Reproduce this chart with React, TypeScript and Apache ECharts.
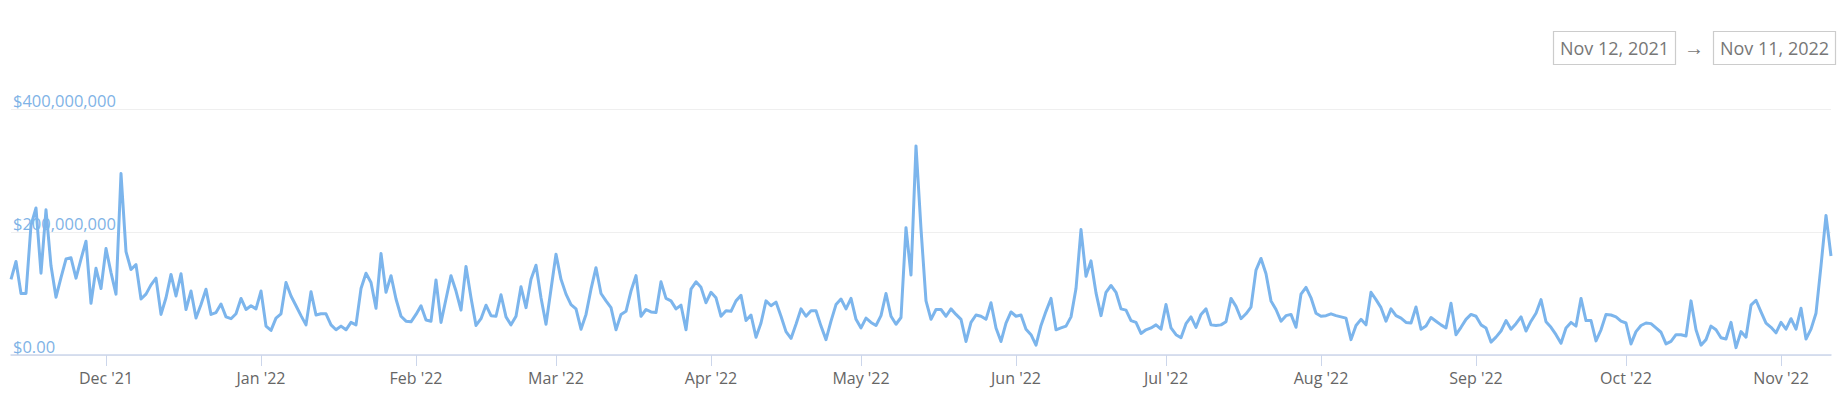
import React, { useEffect, useRef } from "react";
import * as echarts from "echarts";

// Daily volume in millions of USD, Nov 12, 2021 -> Nov 11, 2022
const volNov21: number[] = [123, 152, 100, 100, 211, 239, 133, 236, 145, 94, 126, 156, 158, 125, 156, 185, 84, 141, 108];
const volDec21: number[] = [173, 134, 99, 295, 168, 139, 147, 91, 99, 114, 125, 66, 93, 131, 96, 132, 74, 104, 60, 82, 107, 66, 69, 83, 62, 59, 67, 92, 74, 80, 75];
const volJan22: number[] = [104, 47, 40, 60, 67, 118, 96, 80, 64, 49, 103, 65, 67, 67, 49, 41, 47, 41, 53, 49, 108, 133, 118, 76, 165, 102, 129, 91, 63, 55, 54];
const volFeb22: number[] = [66, 80, 57, 55, 122, 53, 91, 129, 104, 73, 144, 93, 48, 59, 81, 64, 63, 98, 62, 49, 63, 111, 77, 123, 146, 93, 50, 107];
const volMar22: number[] = [164, 123, 99, 82, 75, 42, 66, 107, 142, 100, 88, 77, 41, 66, 71, 104, 129, 63, 74, 70, 69, 119, 92, 88, 75, 81, 41, 107, 119, 110, 85];
const volApr22: number[] = [102, 93, 63, 72, 71, 88, 97, 56, 65, 29, 52, 88, 80, 86, 63, 38, 27, 50, 75, 63, 72, 72, 47, 25, 55, 82, 91, 75, 92, 58];
const volMay22: number[] = [44, 60, 53, 48, 64, 100, 63, 50, 61, 207, 130, 340, 205, 88, 58, 74, 74, 63, 75, 66, 58, 22, 53, 65, 63, 58, 85, 44, 22, 52, 70];
const volJun22: number[] = [63, 65, 42, 33, 16, 48, 71, 92, 41, 44, 47, 62, 108, 204, 128, 153, 101, 64, 102, 113, 102, 75, 73, 56, 53, 35, 41, 44, 49, 42];
const volJul22: number[] = [82, 44, 33, 28, 51, 62, 45, 66, 75, 49, 48, 49, 54, 92, 79, 59, 67, 78, 138, 157, 132, 88, 74, 55, 64, 66, 45, 99, 110, 93, 68];
const volAug22: number[] = [63, 64, 67, 64, 62, 60, 25, 48, 58, 49, 102, 90, 77, 55, 75, 64, 60, 53, 52, 78, 42, 47, 61, 55, 49, 44, 84, 33, 45, 58, 66];
const volSep22: number[] = [63, 49, 44, 21, 29, 39, 56, 42, 51, 62, 39, 55, 68, 90, 54, 45, 33, 19, 44, 53, 47, 92, 56, 56, 23, 41, 66, 65, 62, 55];
const volOct22: number[] = [52, 18, 38, 48, 52, 51, 44, 37, 18, 22, 33, 33, 31, 88, 41, 16, 25, 47, 41, 28, 26, 53, 12, 38, 29, 81, 89, 70, 52, 45, 36];
const volNov22: number[] = [53, 42, 59, 42, 76, 26, 42, 68, 145, 227, 161];

const startDate = "2021-11-12";
const rangeStartLabel = "Nov 12, 2021";
const rangeEndLabel = "Nov 11, 2022";
const yTicks: number[] = [0, 200000000, 400000000];
const monthNames: string[] = ["Jan", "Feb", "Mar", "Apr", "May", "Jun", "Jul", "Aug", "Sep", "Oct", "Nov", "Dec"];

const volumes: number[] = [
  ...volNov21, ...volDec21, ...volJan22, ...volFeb22, ...volMar22, ...volApr22,
  ...volMay22, ...volJun22, ...volJul22, ...volAug22, ...volSep22, ...volOct22, ...volNov22,
].map((v) => v * 1e6);

function buildDates(start: string, n: number): string[] {
  const out: string[] = [];
  const t0 = Date.parse(start + "T00:00:00Z");
  for (let i = 0; i < n; i++) {
    out.push(new Date(t0 + i * 86400000).toISOString().slice(0, 10));
  }
  return out;
}

const dates = buildDates(startDate, volumes.length);

const isMonthStart = (_i: number, v: string) => v.slice(8, 10) === "01";

const FONT = "'Open Sans', 'Noto Sans', sans-serif";

export default function App() {
  const ref = useRef<HTMLDivElement>(null);
  useEffect(() => {
    document.body.style.margin = "0";
    if (!ref.current) return;
    const chart = echarts.init(ref.current, null, { renderer: "svg" });
    chart.setOption({
      animation: false,
      grid: { left: 11, right: 8, top: 109, bottom: 57, containLabel: false },
      xAxis: {
        type: "category",
        data: dates,
        boundaryGap: false,
        axisLine: { lineStyle: { color: "#ccd6eb", width: 1.5 } },
        axisTick: { interval: isMonthStart, length: 11, lineStyle: { color: "#ccd6eb" } },
        axisLabel: {
          interval: isMonthStart,
          margin: 15,
          color: "#666666",
          fontSize: 16,
          fontFamily: FONT,
          formatter: (v: string) => {
            const m = parseInt(v.slice(5, 7), 10) - 1;
            return monthNames[m] + " '" + v.slice(2, 4);
          },
        },
        splitLine: { show: false },
      },
      yAxis: {
        type: "value",
        min: yTicks[0],
        max: yTicks[yTicks.length - 1],
        interval: yTicks[1] - yTicks[0],
        axisLine: { show: false },
        axisTick: { show: false },
        splitLine: { lineStyle: { color: "#efefef", width: 1 } },
        axisLabel: {
          inside: true,
          margin: 2,
          verticalAlign: "bottom",
          color: "#7fb3e6",
          fontSize: 16.5,
          fontFamily: FONT,
          formatter: (v: number) => (v === 0 ? "$0.00" : "$" + v.toLocaleString("en-US")),
        },
      },
      series: [
        {
          type: "line",
          data: volumes,
          showSymbol: false,
          symbol: "none",
          lineStyle: { color: "#7cb5ec", width: 3, join: "round" },
          itemStyle: { color: "#7cb5ec" },
          z: 3,
        },
      ],
      graphic: [
        {
          type: "rect",
          shape: { x: 1553.5, y: 31.5, width: 122, height: 33 },
          style: { fill: "#ffffff", stroke: "#cccccc", lineWidth: 1.2 },
        },
        {
          type: "text",
          x: 1614.5,
          y: 48,
          style: {
            text: rangeStartLabel,
            fill: "#777777",
            font: "18px " + FONT,
            align: "center",
            verticalAlign: "middle",
          },
        },
        {
          type: "text",
          x: 1694,
          y: 47,
          style: {
            text: "→",
            fill: "#777777",
            font: "20px " + FONT,
            align: "center",
            verticalAlign: "middle",
          },
        },
        {
          type: "rect",
          shape: { x: 1713.5, y: 31.5, width: 122, height: 33 },
          style: { fill: "#ffffff", stroke: "#cccccc", lineWidth: 1.2 },
        },
        {
          type: "text",
          x: 1774.5,
          y: 48,
          style: {
            text: rangeEndLabel,
            fill: "#777777",
            font: "18px " + FONT,
            align: "center",
            verticalAlign: "middle",
          },
        },
      ],
    });
    return () => chart.dispose();
  }, []);
  return <div ref={ref} style={{ width: 1839, height: 412 }} />;
}
